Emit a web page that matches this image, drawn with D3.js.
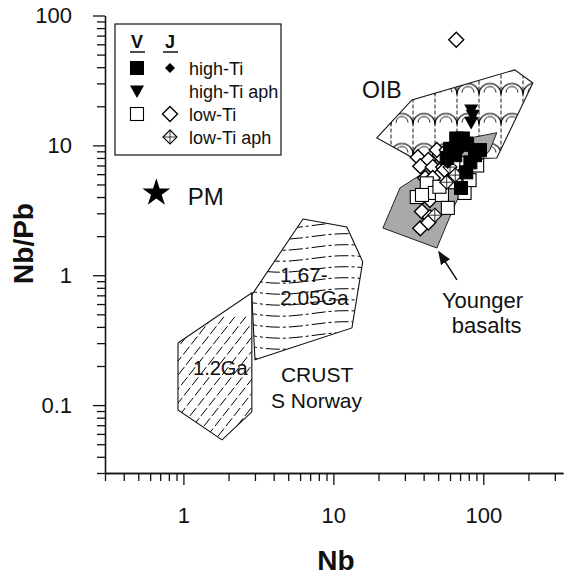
<!DOCTYPE html>
<html>
<head>
<meta charset="utf-8">
<script src="https://cdn.jsdelivr.net/npm/d3@7"></script>
<style>
body { margin: 0; background: #fff; }
svg text { font-family: "Liberation Sans", Arial, sans-serif; fill: #111; }
</style>
</head>
<body>
<div id="chart"></div>
<script>
// axis ticks
var xMajorTicks = [1, 10, 100];
var xMinorTicks = [0.3, 0.4, 0.5, 0.6, 0.7, 0.8, 0.9, 2, 3, 4, 5, 6, 7, 8, 9, 20, 30, 40, 50, 60, 70, 80, 90, 200, 300];
var yMajorTicks = [0.1, 1, 10, 100];
var yMinorTicks = [0.03, 0.04, 0.05, 0.06, 0.07, 0.08, 0.09, 0.2, 0.3, 0.4, 0.5, 0.6, 0.7, 0.8, 0.9, 2, 3, 4, 5, 6, 7, 8, 9, 20, 30, 40, 50, 60, 70, 80, 90];

// samples [Nb, Nb/Pb]
var vHighTi = [[66, 11.3], [73, 11.3], [64.6, 9.4], [78, 10.1], [57, 8.0], [65, 8.4], [88, 8.4], [77, 6.2], [71, 4.7], [60, 9.4], [95, 9.2], [82, 7.4]];
var jHighTi = [[70, 9.0], [58, 7.2]];
var vHighTiAph = [[83, 18.7], [85, 17], [83, 15], [77, 10.6], [70, 10.2]];
var vLowTi = [[77, 7.3], [42, 5.1], [36, 4.0], [47.5, 4.3], [53, 4.15], [58, 3.3], [75, 4.3], [39, 4.15], [51, 4.8], [65, 5.2], [81, 5.4], [91, 7.0]];
var jLowTi = [[36.6, 8.1], [43, 7.7], [38, 6.9], [46, 6.8], [51, 8.4], [51, 5.9], [49, 9.2], [57, 9.2], [41, 5.6], [47.5, 4.8], [44, 3.8], [39, 3.1], [44, 2.8], [38, 2.3], [43, 2.55], [54, 6.8], [60, 5.4], [55, 6.5], [46, 5.6], [66, 7.1], [66, 65]];
var lowTiAph = [[60, 6.8], [57, 5.2], [47.5, 2.9], [65, 5.9]];
var primitiveMantle = [[0.66, 4.3]];

// fields [Nb, Nb/Pb]
var oibField = [[19.5, 11.4], [33.4, 22.4], [162, 38.1], [214, 30.2], [123, 8.0], [36, 7.7]];
var youngerField = [[21.4, 2.31], [27.8, 4.7], [40.8, 6.24], [55.4, 9.22], [81.4, 11.4], [123, 12.5], [110.6, 9.22], [81.4, 5.92], [64.6, 3.48], [49, 1.62]];
var crust12Field = [[0.92, 0.301], [2.86, 0.731], [2.86, 0.0887], [1.81, 0.054], [0.92, 0.0919]];
var crust167Field = [[6.27, 2.71], [12.3, 2.35], [15.7, 1.27], [13.3, 0.393], [3.0, 0.223], [2.86, 0.705]];

var margin = {top: 15.5, right: 0, bottom: 105, left: 105};
var width = 458;
var height = 457.5;

var x = d3.scaleLog().domain([0.3, 340]).range([0, width]);
var y = d3.scaleLog().domain([0.03, 100]).range([height, 0]);

var svg = d3.select("#chart")
    .append("svg")
    .attr("width", 575)
    .attr("height", 578)
    .append("g")
    .attr("transform", "translate(" + margin.left + "," + margin.top + ")");

var defs = svg.append("defs");
var poly = d3.line().x(function(d) { return x(d[0]); }).y(function(d) { return y(d[1]); }).curve(d3.curveLinearClosed);

function clipFor(id, field) {
    defs.append("clipPath").attr("id", id).append("path").attr("d", poly(field));
    return "url(#" + id + ")";
}

// OIB pattern: scallops with dashed verticals
var pat = defs.append("pattern").attr("id", "oibPat")
    .attr("patternUnits", "userSpaceOnUse")
    .attr("width", 22).attr("height", 30)
    .attr("x", 0).attr("y", 5);
pat.append("path").attr("d", "M0,14 A11,11 0 0 1 22,14").attr("fill", "none").attr("stroke", "#000").attr("stroke-width", 1.1);
pat.append("path").attr("d", "M5,12 A6,6 0 0 1 17,12").attr("fill", "none").attr("stroke", "#000").attr("stroke-width", 0.9);
pat.append("line").attr("x1", 0).attr("x2", 0).attr("y1", 0).attr("y2", 30)
    .attr("stroke", "#000").attr("stroke-width", 0.9).attr("stroke-dasharray", "4,2");
pat.append("line").attr("x1", 22).attr("x2", 22).attr("y1", 0).attr("y2", 30)
    .attr("stroke", "#000").attr("stroke-width", 0.9).attr("stroke-dasharray", "4,2");

svg.append("path")
    .attr("d", poly(oibField))
    .attr("fill", "url(#oibPat)")
    .attr("stroke", "#111")
    .attr("stroke-width", 1.1);

svg.append("path")
    .attr("d", poly(youngerField))
    .attr("fill", "#a9a9a9")
    .attr("stroke", "#222")
    .attr("stroke-width", 1);

// crust 1.2 Ga: diagonal dashed hatch
var c12 = svg.append("g").attr("clip-path", clipFor("c12clip", crust12Field));
for (var k = -12; k < 16; k++) {
    var x0 = x(0.8) + k * 11;
    c12.append("line")
        .attr("x1", x0).attr("y1", y(0.04))
        .attr("x2", x0 + 110).attr("y2", y(0.04) - 140)
        .attr("stroke", "#000").attr("stroke-width", 1)
        .attr("stroke-dasharray", "10,3");
}
svg.append("path").attr("d", poly(crust12Field)).attr("fill", "none").attr("stroke", "#111").attr("stroke-width", 1.1);

// crust 1.67-2.05 Ga: wavy dash-dot hatch
var c167 = svg.append("g").attr("clip-path", clipFor("c167clip", crust167Field));
var wave = d3.line().curve(d3.curveBasis);
for (var j = 0; j < 16; j++) {
    var yy = y(3) + j * 11;
    var pts = d3.range(0, 13).map(function(i) {
        var px = x(2.5) + i * 12;
        return [px, yy + 3.5 * Math.sin((px - x(2.5)) / 140 * 2 * Math.PI) + i * 0.2];
    });
    c167.append("path").attr("d", wave(pts))
        .attr("fill", "none").attr("stroke", "#000").attr("stroke-width", 1)
        .attr("stroke-dasharray", "14,3,3,3");
}
svg.append("path").attr("d", poly(crust167Field)).attr("fill", "none").attr("stroke", "#111").attr("stroke-width", 1.1);

// axes
var yAxisMajor = d3.axisLeft(y).tickValues(yMajorTicks).tickSize(12).tickSizeOuter(0).tickPadding(21)
    .tickFormat(function(d) { return d < 1 ? String(d) : d3.format("d")(d); });
var yAxisMinor = d3.axisLeft(y).tickValues(yMinorTicks).tickSize(8).tickSizeOuter(0).tickFormat("");
var xAxisMajor = d3.axisBottom(x).tickValues(xMajorTicks).tickSize(12).tickSizeOuter(0).tickPadding(22)
    .tickFormat(d3.format("d"));
var xAxisMinor = d3.axisBottom(x).tickValues(xMinorTicks).tickSize(8).tickSizeOuter(0).tickFormat("");

svg.append("g").attr("class", "y axis").call(yAxisMinor);
svg.append("g").attr("class", "y axis").call(yAxisMajor);
svg.append("g").attr("class", "x axis").attr("transform", "translate(0," + height + ")").call(xAxisMinor);
svg.append("g").attr("class", "x axis").attr("transform", "translate(0," + height + ")").call(xAxisMajor);

svg.selectAll(".axis path, .axis line").attr("stroke", "#111").attr("stroke-width", 1.3);
svg.selectAll(".axis text")
    .style("font-family", "\"Liberation Sans\", Arial, sans-serif")
    .style("font-size", "22px").attr("fill", "#111");

svg.append("text")
    .attr("x", 231)
    .attr("y", height + 97)
    .style("text-anchor", "middle")
    .style("font-size", "28px")
    .style("font-weight", "bold")
    .text("Nb");

svg.append("text")
    .attr("transform", "rotate(-90)")
    .attr("x", -228)
    .attr("y", -72)
    .style("text-anchor", "middle")
    .style("font-size", "28px")
    .style("font-weight", "bold")
    .text("Nb/Pb");

// symbols
function diamondPath(r) { return "M0," + (-r) + "L" + r + ",0L0," + r + "L" + (-r) + ",0Z"; }
function triPath(r) { return "M" + (-r) + "," + (-r * 0.8) + "L" + r + "," + (-r * 0.8) + "L0," + (r * 1.0) + "Z"; }

function drawSym(g, type, px, py) {
    var s = g.append("g").attr("transform", "translate(" + px + "," + py + ")");
    if (type === "fsq") {
        s.append("rect").attr("x", -6.5).attr("y", -6.5).attr("width", 13).attr("height", 13).attr("fill", "#000").attr("stroke", "#000");
    } else if (type === "osq") {
        s.append("rect").attr("x", -6.5).attr("y", -6.5).attr("width", 13).attr("height", 13).attr("fill", "#fff").attr("stroke", "#000").attr("stroke-width", 1.1);
    } else if (type === "fdi") {
        s.append("path").attr("d", diamondPath(5)).attr("fill", "#000");
    } else if (type === "odi") {
        s.append("path").attr("d", diamondPath(7.5)).attr("fill", "#fff").attr("stroke", "#000").attr("stroke-width", 1.4);
    } else if (type === "cdi") {
        s.append("path").attr("d", diamondPath(7)).attr("fill", "#fff").attr("stroke", "#000").attr("stroke-width", 1.1);
        s.append("path").attr("d", "M-7,0H7M0,-7V7").attr("stroke", "#000").attr("stroke-width", 0.8);
    } else if (type === "tri") {
        s.append("path").attr("d", triPath(7)).attr("fill", "#000");
    }
}

var marks = svg.append("g");
[[jLowTi, "odi"], [vLowTi, "osq"], [lowTiAph, "cdi"], [vHighTi, "fsq"], [jHighTi, "fdi"], [vHighTiAph, "tri"]].forEach(function(set) {
    set[0].forEach(function(d) { drawSym(marks, set[1], x(d[0]), y(d[1])); });
});

svg.selectAll(".pm")
    .data(primitiveMantle)
    .enter()
    .append("path")
    .attr("class", "pm")
    .attr("d", d3.symbol().type(d3.symbolStar).size(240))
    .attr("transform", function(d) { return "translate(" + x(d[0]) + "," + y(d[1]) + ")"; })
    .attr("fill", "#000");

// annotations
function label(nb, ratio, txt, size) {
    svg.append("text").attr("x", x(nb)).attr("y", y(ratio)).style("font-size", size + "px").text(txt);
}
label(1.07, 3.48, "PM", 24);
label(15.5, 23.2, "OIB", 23);
label(4.4, 0.888, "1.67-", 21);
label(4.4, 0.59, "2.05Ga", 21);
label(1.16, 0.171, "1.2Ga", 20);
label(4.47, 0.151, "CRUST", 21);
label(3.84, 0.0951, "S Norway", 21);
label(53, 0.56, "Younger", 22);
label(61.7, 0.36, "basalts", 22);

defs.append("marker").attr("id", "arrowHead")
    .attr("viewBox", "0 0 10 10").attr("refX", 9).attr("refY", 5)
    .attr("markerWidth", 9).attr("markerHeight", 9).attr("orient", "auto")
    .append("path").attr("d", "M0,1L10,5L0,9Z").attr("fill", "#111");
svg.append("line")
    .attr("x1", x(66.7)).attr("y1", y(0.92))
    .attr("x2", x(50.6)).attr("y2", y(1.51))
    .attr("stroke", "#111").attr("stroke-width", 1.5)
    .attr("marker-end", "url(#arrowHead)");

// legend
var lg = svg.append("g").attr("transform", "translate(10,8.5)");
lg.append("rect").attr("width", 166).attr("height", 131).attr("fill", "#fff").attr("stroke", "#111").attr("stroke-width", 1.2);
lg.append("text").attr("x", 22).attr("y", 24).style("font-size", "18px").style("font-weight", "bold").attr("text-anchor", "middle").text("V");
lg.append("text").attr("x", 55).attr("y", 24).style("font-size", "18px").style("font-weight", "bold").attr("text-anchor", "middle").text("J");
lg.append("line").attr("x1", 15).attr("x2", 30).attr("y1", 28).attr("y2", 28).attr("stroke", "#111").attr("stroke-width", 1.5);
lg.append("line").attr("x1", 48).attr("x2", 63).attr("y1", 28).attr("y2", 28).attr("stroke", "#111").attr("stroke-width", 1.5);
var rows = [["high-Ti", "fsq", "fdi"], ["high-Ti aph", "tri", null], ["low-Ti", "osq", "odi"], ["low-Ti aph", null, "cdi"]];
rows.forEach(function(r, i) {
    var ry = 44 + i * 23;
    if (r[1]) drawSym(lg, r[1], 22, ry);
    if (r[2]) drawSym(lg, r[2], 55, ry);
    lg.append("text").attr("x", 74).attr("y", ry + 7).style("font-size", "18px").text(r[0]);
});
</script>
</body>
</html>
